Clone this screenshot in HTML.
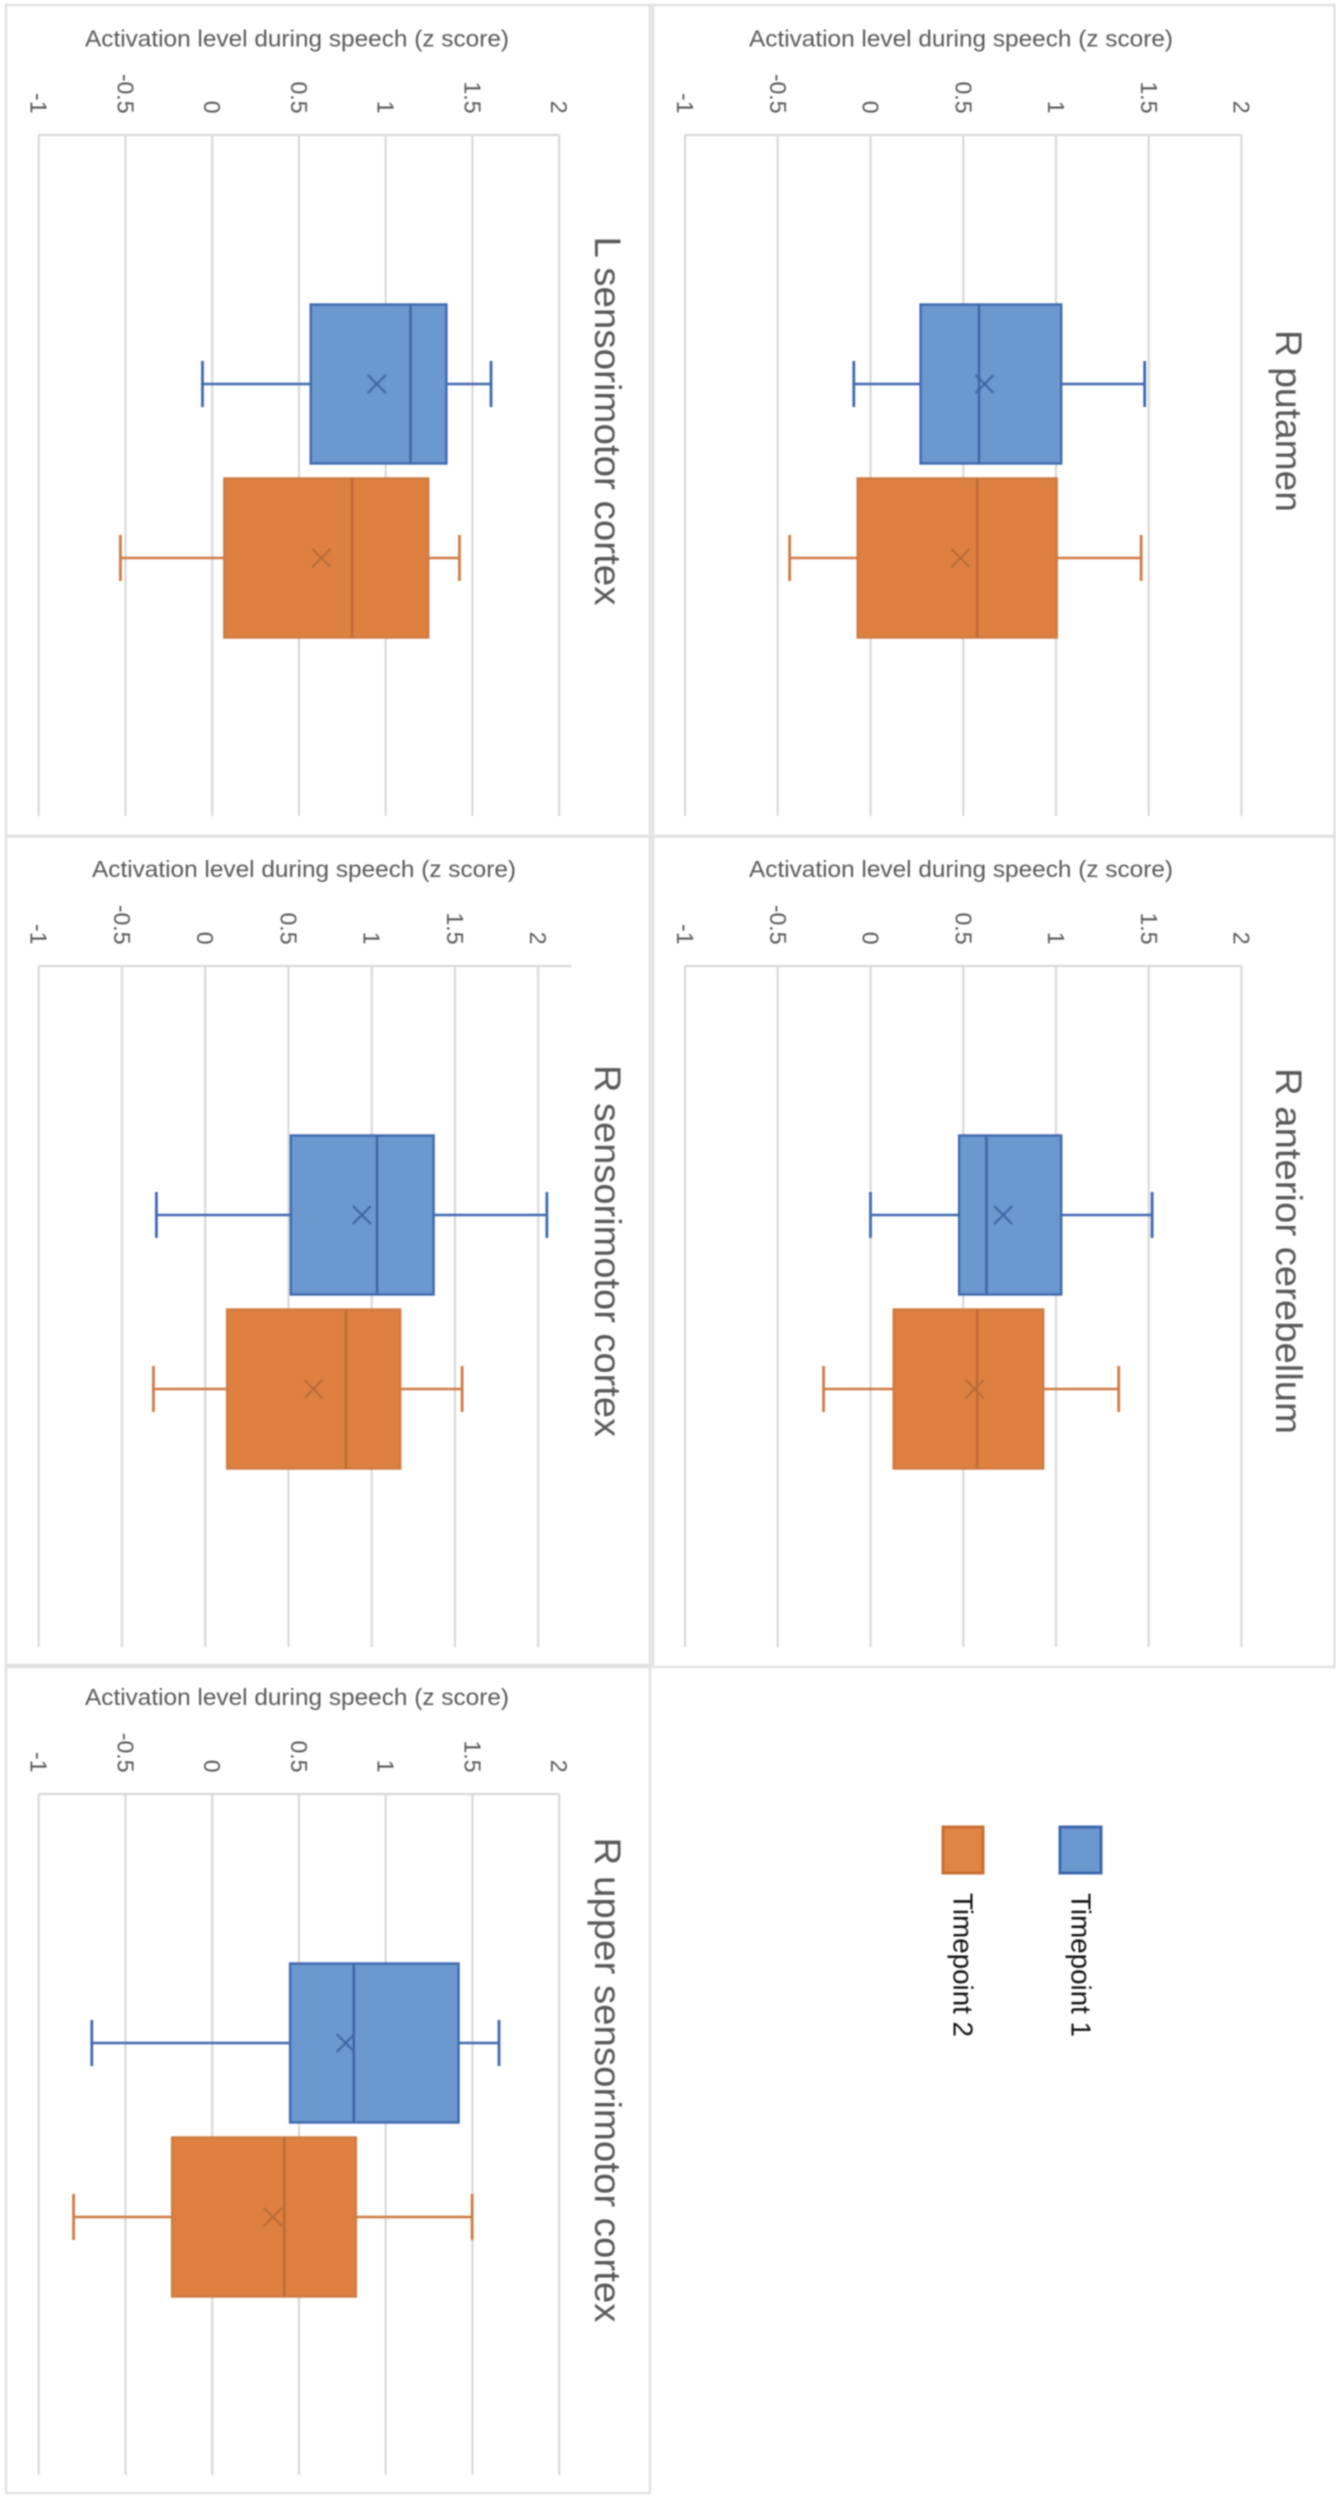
<!DOCTYPE html>
<html lang="en">
<head>
<meta charset="utf-8">
<title>Activation level during speech by region</title>
<style>
  html, body { margin: 0; padding: 0; background: #ffffff; }
  body { width: 1336px; height: 2500px; overflow: hidden; }
  svg { display: block; filter: blur(0.7px); font-family: "Liberation Sans", sans-serif; }
</style>
</head>
<body>
<svg id="figure" xmlns="http://www.w3.org/2000/svg" width="1336" height="2500" viewBox="0 0 1336 2500">
  <rect x="0" y="0" width="1336" height="2500" fill="#ffffff"/>
  <g id="panels"></g>
  <g>
    <g>
      <rect x="1060" y="1827" width="41" height="46" fill="#6a98cf" stroke="#3f68ad" stroke-width="3"/>
      <text transform="translate(1071.5 1893) rotate(90)" font-size="28" fill="#111111" textLength="144" lengthAdjust="spacingAndGlyphs">Timepoint 1</text>
    </g>
    <g>
      <rect x="943" y="1827" width="40" height="46" fill="#e08544" stroke="#c96f33" stroke-width="3"/>
      <text transform="translate(953.5 1893) rotate(90)" font-size="28" fill="#111111" textLength="144" lengthAdjust="spacingAndGlyphs">Timepoint 2</text>
    </g>
  </g>
</svg>
<script>
// ---- chart data (z scores) ----
const regions = ["R putamen", "L sensorimotor cortex", "R anterior cerebellum", "R sensorimotor cortex", "R upper sensorimotor cortex"];
const tickValues = [-1, -0.5, 0, 0.5, 1, 1.5, 2];
const tickLabels = ["-1", "-0.5", "0", "0.5", "1", "1.5", "2"];
const axisTitle = "Activation level during speech (z score)";
const axisMin = -1;
const axisMax = [2, 2, 2, 2.2, 2];

const t1Low    = [-0.09, -0.056, 0.0, -0.293, -0.694];
const t1Q1     = [0.27, 0.568, 0.478, 0.514, 0.449];
const t1Median = [0.585, 1.143, 0.625, 1.032, 0.816];
const t1Mean   = [0.615, 0.949, 0.715, 0.941, 0.769];
const t1Q3     = [1.028, 1.35, 1.028, 1.372, 1.42];
const t1High   = [1.478, 1.607, 1.518, 2.052, 1.653];

const t2Low    = [-0.436, -0.529, -0.253, -0.311, -0.799];
const t2Q1     = [-0.069, 0.07, 0.125, 0.132, -0.231];
const t2Median = [0.575, 0.806, 0.575, 0.845, 0.415];
const t2Mean   = [0.485, 0.629, 0.561, 0.65, 0.35];
const t2Q3     = [1.004, 1.245, 0.931, 1.171, 0.828];
const t2High   = [1.459, 1.425, 1.338, 1.543, 1.498];

// ---- layout ----
function panelFrame(i) {
  const right = i === 0 || i === 2;
  const row = i < 2 ? 0 : (i < 4 ? 1 : 2);
  const top = [135, 966, 1794][row];
  const threeUnits = i === 3 ? 499.5 : (right ? 556.5 : 520.5);
  return {
    plotLeft: right ? 685 : 38.7,
    unit: threeUnits / 3,
    plotTop: top,
    plotBottom: top + 681,
    boxLeft: right ? 653 : 6,
    boxRight: right ? 1334.5 : 650,
    boxTop: [5, 836, 1665][row],
    boxBottom: [836.5, 1667, 2493][row],
    titleCenterX: right ? 961 : (i === 3 ? 304 : 297),
    titleBaseline: [46.5, 877, 1705][row],
    nameBaselineX: right ? 1276 : 595,
    nameCenterY: [421, 1251, 2080][row]
  };
}
const nameLengths = [182, 369, 366, 372, 485];

const NS = "http://www.w3.org/2000/svg";
function add(parent, tag, attrs, name) {
  const el = document.createElementNS(NS, tag);
  for (const k in attrs) el.setAttribute(k, attrs[k]);
  
  
  parent.appendChild(el);
  return el;
}

const GRID = "#d9d9d9";
const LABEL = "#595959";

function drawBox(g, xScale, centerY, stats, fill, stroke, lineColor, prefix) {
  const half = 79.5, cap = 23;
  add(g, "line", {x1: xScale(stats.low), x2: xScale(stats.q1), y1: centerY, y2: centerY, stroke: stroke, "stroke-width": 2.4}, prefix + "-lower-whisker");
  add(g, "line", {x1: xScale(stats.q3), x2: xScale(stats.high), y1: centerY, y2: centerY, stroke: stroke, "stroke-width": 2.4}, prefix + "-upper-whisker");
  add(g, "line", {x1: xScale(stats.low), x2: xScale(stats.low), y1: centerY - cap, y2: centerY + cap, stroke: stroke, "stroke-width": 2.8}, prefix + "-lower-cap");
  add(g, "line", {x1: xScale(stats.high), x2: xScale(stats.high), y1: centerY - cap, y2: centerY + cap, stroke: stroke, "stroke-width": 2.8}, prefix + "-upper-cap");
  add(g, "rect", {x: xScale(stats.q1), y: centerY - half, width: xScale(stats.q3) - xScale(stats.q1), height: half * 2, fill: fill, stroke: stroke, "stroke-width": 2.4}, prefix + "-box");
  add(g, "line", {x1: xScale(stats.median), x2: xScale(stats.median), y1: centerY - half, y2: centerY + half, stroke: lineColor, "stroke-width": 2.4}, prefix + "-median");
  const mx = xScale(stats.mean), m = 9;
  add(g, "line", {x1: mx - m, x2: mx + m, y1: centerY - m, y2: centerY + m, stroke: lineColor, "stroke-width": 2}, prefix + "-mean-marker-a");
  add(g, "line", {x1: mx - m, x2: mx + m, y1: centerY + m, y2: centerY - m, stroke: lineColor, "stroke-width": 2}, prefix + "-mean-marker-b");
}

const root = document.getElementById("panels");
regions.forEach(function (region, i) {
  const f = panelFrame(i);
  const xScale = function (v) { return f.plotLeft + (v - axisMin) * f.unit; };
  const yBand = function (series) { return f.plotTop + 249 + series * 174; };
  const slug = region.toLowerCase().replace(/ /g, "-");
  const g = add(root, "g", {}, "panel-" + slug);

  add(g, "rect", {x: f.boxLeft, y: f.boxTop, width: f.boxRight - f.boxLeft, height: f.boxBottom - f.boxTop, fill: "none", stroke: "#e2e2e2", "stroke-width": 2.6}, "panel-border");

  tickValues.forEach(function (v, t) {
    const x = xScale(v);
    add(g, "line", {x1: x, x2: x, y1: f.plotTop, y2: f.plotBottom, stroke: GRID, "stroke-width": 2.2}, "gridline-" + tickLabels[t]);
    const label = add(g, "text", {transform: "translate(" + (x - 8) + " " + (f.plotTop - 21.5) + ") rotate(90)", "font-size": 23, fill: LABEL, "text-anchor": "end"}, "tick-label-" + tickLabels[t]);
    label.textContent = tickLabels[t];
  });
  add(g, "line", {x1: xScale(axisMin), x2: xScale(axisMax[i]), y1: f.plotTop, y2: f.plotTop, stroke: GRID, "stroke-width": 2.2}, "category-axis-line");

  const title = add(g, "text", {x: f.titleCenterX, y: f.titleBaseline, "font-size": 23.5, fill: LABEL, "text-anchor": "middle", textLength: 424, lengthAdjust: "spacingAndGlyphs"}, "x-axis-title");
  title.textContent = axisTitle;

  const name = add(g, "text", {transform: "translate(" + f.nameBaselineX + " " + f.nameCenterY + ") rotate(90)", "font-size": 37, fill: LABEL, "text-anchor": "middle", textLength: nameLengths[i], lengthAdjust: "spacingAndGlyphs"}, "panel-title");
  name.textContent = region;

  drawBox(g, xScale, yBand(0),
    {low: t1Low[i], q1: t1Q1[i], median: t1Median[i], mean: t1Mean[i], q3: t1Q3[i], high: t1High[i]},
    "#6a98cf", "#4169b0", "#3f64a6", "timepoint-1");
  drawBox(g, xScale, yBand(1),
    {low: t2Low[i], q1: t2Q1[i], median: t2Median[i], mean: t2Mean[i], q3: t2Q3[i], high: t2High[i]},
    "#dd8040", "#cf7a42", "#b96c35", "timepoint-2");
});
</script>
</body>
</html>
